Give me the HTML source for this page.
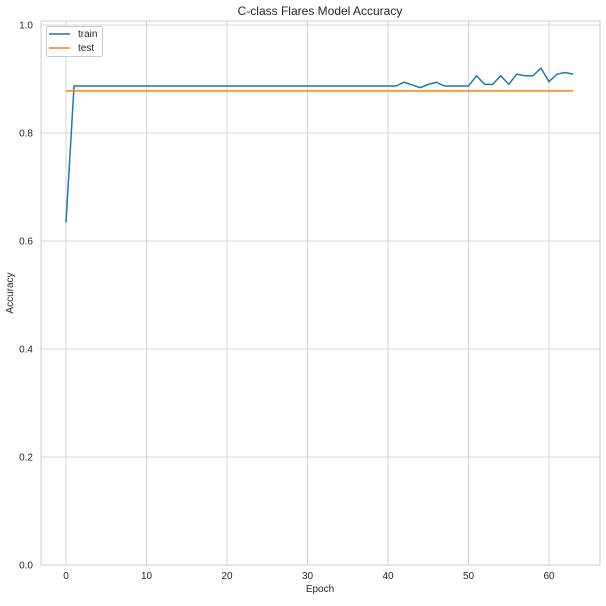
<!DOCTYPE html>
<html><head><meta charset="utf-8"><style>
body{margin:0;background:#fff;font-family:"Liberation Sans",Arial,sans-serif}
svg text{font-family:"Liberation Sans",Arial,sans-serif;fill:#262626}
</style></head><body>
<svg id="chart" width="606" height="601" xmlns="http://www.w3.org/2000/svg">
<text x="320" y="15" text-anchor="middle" font-size="12">C-class Flares Model Accuracy</text>
<text x="320" y="592" text-anchor="middle" font-size="10">Epoch</text>
<text transform="translate(13,293) rotate(-90)" text-anchor="middle" font-size="10">Accuracy</text>
<g id="grid"></g><g id="marks"></g>
<rect x="41" y="21" width="559" height="544" fill="none" stroke="#ccc" stroke-width="1"/>
<g>
<rect x="46.5" y="26.5" width="56" height="30" rx="2" fill="#fff" stroke="#ccc"/>
<line x1="49" y1="34" x2="70" y2="34" stroke="#1f77b4" stroke-width="1.5"/>
<text x="78" y="37" font-size="10">train</text>
<line x1="49" y1="48" x2="70" y2="48" stroke="#ff7f0e" stroke-width="1.5"/>
<text x="78" y="51" font-size="10">test</text>
</g>
</svg>
<script>
const trainAcc=[0.634,0.887,0.887,0.887,0.887,0.887,0.887,0.887,0.887,0.887,0.887,0.887,0.887,0.887,0.887,0.887,0.887,0.887,0.887,0.887,0.887,0.887,0.887,0.887,0.887,0.887,0.887,0.887,0.887,0.887,0.887,0.887,0.887,0.887,0.887,0.887,0.887,0.887,0.887,0.887,0.887,0.887,0.894,0.889,0.884,0.890,0.894,0.887,0.887,0.887,0.887,0.906,0.890,0.890,0.906,0.890,0.909,0.906,0.906,0.920,0.895,0.909,0.912,0.909];
const testAcc=new Array(64).fill(0.878);
const xTicks=[0,10,20,30,40,50,60];
const yTicks=[0.0,0.2,0.4,0.6,0.8,1.0];
const NS="http://www.w3.org/2000/svg";
const X=e=>66+8.05*e, Y=v=>565-540*v;
const grid=document.getElementById('grid'), marks=document.getElementById('marks');
function mk(p,tag,attrs){const el=document.createElementNS(NS,tag);for(const k in attrs)el.setAttribute(k,attrs[k]);p.appendChild(el);return el;}
xTicks.forEach(t=>{
 const l=mk(grid,'line',{x1:X(t),x2:X(t),y1:21,y2:565,stroke:'#d5d5d5'});
 
 
 const tx=mk(grid,'text',{x:X(t),y:579,'text-anchor':'middle','font-size':'10'});
 
 
 tx.textContent=t;
});
yTicks.forEach(t=>{
 const l=mk(grid,'line',{x1:41,x2:600,y1:Y(t),y2:Y(t),stroke:'#d5d5d5'});
 
 
 const tx=mk(grid,'text',{x:33,y:Y(t)+3.5,'text-anchor':'end','font-size':'10'});
 
 
 tx.textContent=t.toFixed(1);
});
const pts=a=>a.map((v,i)=>X(i)+','+Y(v)).join(' ');
const tr=mk(marks,'polyline',{points:pts(trainAcc),fill:'none',stroke:'#1f77b4','stroke-width':1.5});


const te=mk(marks,'polyline',{points:pts(testAcc),fill:'none',stroke:'#ff7f0e','stroke-width':1.5});


</script>
</body></html>
